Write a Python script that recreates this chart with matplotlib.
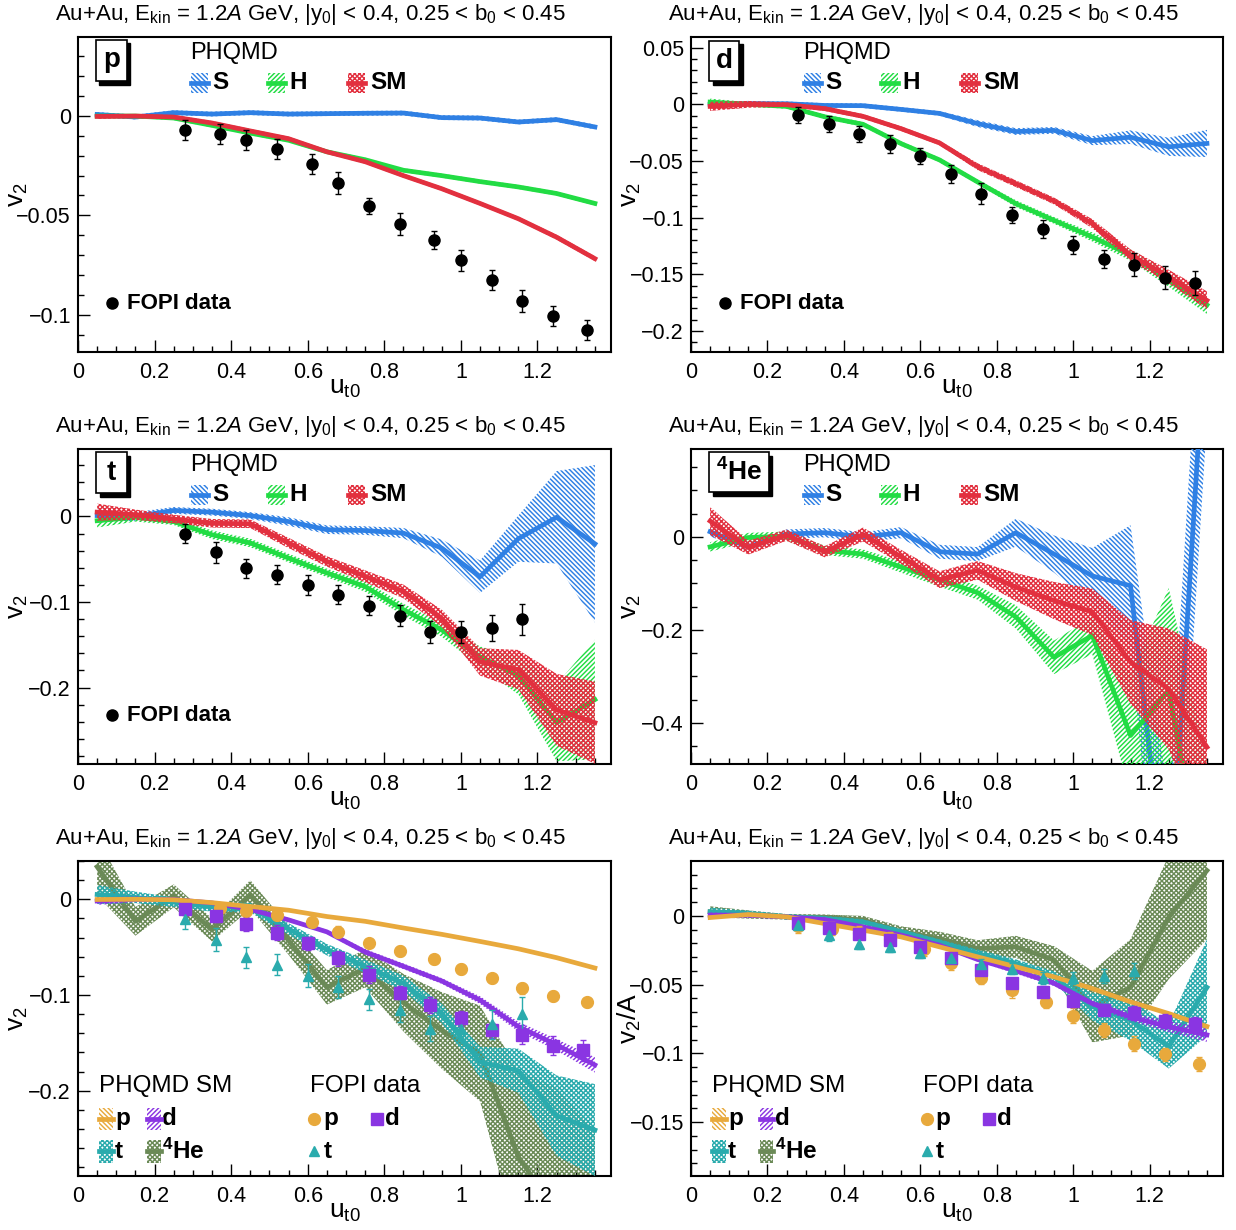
import matplotlib
matplotlib.use("Agg")
import matplotlib.pyplot as plt
import numpy as np
from matplotlib.patches import Rectangle
from matplotlib.lines import Line2D
from matplotlib.ticker import MultipleLocator, FuncFormatter

plt.rcParams.update({
    "font.family": ["Liberation Sans", "DejaVu Sans"],
    "mathtext.fontset": "custom",
    "mathtext.rm": "Liberation Sans",
    "mathtext.it": "Liberation Sans:italic",
    "mathtext.bf": "Liberation Sans:bold",
    "hatch.linewidth": 1.05,
    "axes.linewidth": 1.5,
})

# ---------------- data ----------------
u_model = [0.05, 0.15, 0.25, 0.35, 0.45, 0.55, 0.65, 0.75, 0.85, 0.95, 1.05, 1.15, 1.25, 1.35]

# protons
p_S = [0.0008, -0.0005, 0.0017, 0.0010, 0.0017, 0.0010, 0.0012, 0.0014, 0.0015, -0.0008, -0.0010, -0.0030, -0.0018, -0.0055]
p_S_err = [0.0012, 0.0012, 0.0012, 0.0012, 0.0012, 0.0012, 0.0012, 0.0012, 0.0012, 0.0012, 0.0012, 0.0012, 0.0012, 0.0012]
p_H = [0.0, 0.0, -0.0010, -0.0047, -0.0086, -0.0122, -0.0180, -0.0220, -0.0273, -0.0300, -0.0330, -0.0357, -0.0390, -0.0440]
p_H_err = [0.0010, 0.0010, 0.0010, 0.0010, 0.0010, 0.0010, 0.0010, 0.0010, 0.0010, 0.0010, 0.0010, 0.0010, 0.0010, 0.0010]
p_SM = [-0.0002, 0.0, -0.0005, -0.0035, -0.0075, -0.0114, -0.0180, -0.0230, -0.0300, -0.0366, -0.0440, -0.0517, -0.0610, -0.0718]
p_SM_err = [0.0012, 0.0010, 0.0010, 0.0010, 0.0010, 0.0010, 0.0010, 0.0010, 0.0010, 0.0010, 0.0010, 0.0010, 0.0012, 0.0012]

# deuterons
d_S = [0.0, 0.0006, 0.0005, -0.0010, -0.0012, -0.0045, -0.0080, -0.0170, -0.0240, -0.0230, -0.0320, -0.0290, -0.0375, -0.0345]
d_S_err = [0.003, 0.002, 0.002, 0.002, 0.002, 0.002, 0.002, 0.003, 0.003, 0.003, 0.004, 0.006, 0.008, 0.012]
d_H = [0.0020, 0.0, -0.0018, -0.0110, -0.0176, -0.0347, -0.0490, -0.0685, -0.0876, -0.1024, -0.1170, -0.1330, -0.1550, -0.1770]
d_H_err = [0.003, 0.002, 0.002, 0.002, 0.002, 0.002, 0.002, 0.002, 0.003, 0.003, 0.004, 0.005, 0.006, 0.008]
d_SM = [-0.0018, 0.0, -0.0003, -0.0038, -0.0106, -0.0215, -0.0340, -0.0550, -0.0700, -0.0853, -0.1053, -0.1330, -0.1520, -0.1730]
d_SM_err = [0.004, 0.003, 0.002, 0.002, 0.002, 0.002, 0.002, 0.003, 0.003, 0.003, 0.004, 0.005, 0.006, 0.008]

# tritons
t_S = [0.001, 0.0, 0.007, 0.005, 0.001, -0.006, -0.0155, -0.0165, -0.0195, -0.037, -0.0705, -0.026, -0.001, -0.032]
t_S_err = [0.008, 0.005, 0.004, 0.004, 0.004, 0.005, 0.005, 0.005, 0.006, 0.010, 0.019, 0.027, 0.054, 0.092]
t_H = [-0.005, -0.001, -0.006, -0.0214, -0.031, -0.0487, -0.066, -0.082, -0.109, -0.1326, -0.164, -0.186, -0.241, -0.214]
t_H_err = [0.008, 0.005, 0.004, 0.005, 0.005, 0.005, 0.005, 0.006, 0.007, 0.008, 0.012, 0.022, 0.045, 0.07]
t_SM = [0.005, 0.002, -0.003, -0.008, -0.0086, -0.031, -0.0526, -0.070, -0.0877, -0.119, -0.170, -0.179, -0.226, -0.241]
t_SM_err = [0.010, 0.006, 0.005, 0.005, 0.005, 0.006, 0.006, 0.007, 0.008, 0.010, 0.016, 0.023, 0.042, 0.048]

# 4He
he_S = [0.011, -0.0215, 0.006, 0.009, 0.0, 0.009, -0.032, -0.037, 0.009, -0.037, -0.084, -0.105, -0.82, 0.50]
he_S_err = [0.010, 0.010, 0.010, 0.010, 0.010, 0.012, 0.015, 0.015, 0.030, 0.040, 0.060, 0.130, 0.250, 0.250]
he_H = [-0.0215, -0.0014, 0.0014, -0.029, -0.037, -0.065, -0.092, -0.120, -0.172, -0.259, -0.212, -0.427, -0.330, -0.780]
he_H_err = [0.010, 0.010, 0.010, 0.010, 0.010, 0.012, 0.015, 0.015, 0.025, 0.036, 0.040, 0.130, 0.220, 0.300]
he_SM = [0.034, -0.023, 0.0036, -0.032, 0.005, -0.043, -0.092, -0.072, -0.108, -0.137, -0.161, -0.269, -0.327, -0.452]
he_SM_err = [0.030, 0.015, 0.012, 0.012, 0.015, 0.015, 0.018, 0.020, 0.030, 0.040, 0.050, 0.090, 0.130, 0.210]

# per-nucleon SM curves (last panel)
pA_SM = [-0.0012, 0.0010, -0.0007, -0.0056, -0.0104, -0.0153, -0.0225, -0.0298, -0.0370, -0.0443, -0.0528, -0.0625, -0.0710, -0.0804]
pA_SM_err = [0.0012, 0.0010, 0.0010, 0.0010, 0.0010, 0.0010, 0.0010, 0.0010, 0.0010, 0.0010, 0.0010, 0.0010, 0.0012, 0.0012]
dA_SM = [0.0005, 0.0005, -0.0007, -0.0027, -0.0080, -0.0140, -0.0213, -0.0317, -0.0400, -0.0490, -0.0637, -0.0734, -0.0806, -0.0865]
dA_SM_err = [0.002, 0.0015, 0.0015, 0.0015, 0.0015, 0.0015, 0.0015, 0.0015, 0.002, 0.002, 0.002, 0.003, 0.004, 0.005]
tA_SM = [0.003, 0.0017, -0.0007, -0.002, -0.0044, -0.0116, -0.019, -0.0274, -0.0346, -0.0443, -0.066, -0.0757, -0.095, -0.052]
tA_SM_err = [0.003, 0.002, 0.002, 0.002, 0.002, 0.002, 0.002, 0.003, 0.003, 0.004, 0.010, 0.015, 0.016, 0.035]
heA_SM = [0.003, 0.001, -0.0007, -0.001, -0.003, -0.0116, -0.0165, -0.0237, -0.0225, -0.032, -0.066, -0.052, -0.001, 0.033]
heA_SM_err = [0.004, 0.003, 0.002, 0.002, 0.003, 0.004, 0.005, 0.006, 0.008, 0.010, 0.026, 0.035, 0.045, 0.050]

# FOPI data
fopi_p_u = [0.28, 0.37, 0.44, 0.52, 0.61, 0.68, 0.76, 0.84, 0.93, 1.00, 1.08, 1.16, 1.24, 1.33]
fopi_p_v2 = [-0.0072, -0.0092, -0.0121, -0.0166, -0.0240, -0.0339, -0.0453, -0.0542, -0.0626, -0.0727, -0.0827, -0.0930, -0.1007, -0.1077]
fopi_p_err = [0.005, 0.005, 0.005, 0.005, 0.005, 0.0055, 0.004, 0.0055, 0.0045, 0.0055, 0.005, 0.0055, 0.005, 0.005]
fopi_d_u = [0.28, 0.36, 0.44, 0.52, 0.60, 0.68, 0.76, 0.84, 0.92, 1.00, 1.08, 1.16, 1.24, 1.32]
fopi_d_v2 = [-0.0097, -0.0170, -0.0259, -0.0347, -0.0459, -0.0618, -0.0788, -0.0974, -0.1103, -0.1244, -0.1368, -0.1415, -0.1530, -0.1576]
fopi_d_err = [0.007, 0.007, 0.007, 0.008, 0.007, 0.008, 0.009, 0.007, 0.008, 0.008, 0.008, 0.010, 0.010, 0.011]
fopi_t_u = [0.28, 0.36, 0.44, 0.52, 0.60, 0.68, 0.76, 0.84, 0.92, 1.00, 1.08, 1.16]
fopi_t_v2 = [-0.0203, -0.0420, -0.0604, -0.0682, -0.0800, -0.0916, -0.1045, -0.1158, -0.1353, -0.1353, -0.1306, -0.1200]
fopi_t_err = [0.011, 0.012, 0.011, 0.011, 0.012, 0.011, 0.011, 0.012, 0.013, 0.013, 0.015, 0.018]

mass_p, mass_d, mass_t = 1, 2, 3

# ---------------- style ----------------
C_S, C_H, C_SM = "#2f80e4", "#22dc44", "#e2303f"
C_P, C_D, C_T, C_HE = "#e8a93c", "#8a35e2", "#2aabad", "#6b8a57"
HT_S, HT_H, HT_SM = "\\\\\\\\\\\\\\", "///////", "xxxxxxx"
HT_P, HT_D, HT_T, HT_HE = "\\\\\\\\\\\\\\", "///////", "xxxxxxx", "xxxxxxx"

TITLE = r"Au+Au, E$_{\rm kin}$ = 1.2$\it{A}$ GeV, |y$_0$| < 0.4, 0.25 < b$_0$ < 0.45"

W, H = 1236, 1230
fig = plt.figure(figsize=(W / 100, H / 100), dpi=100)

def axes_px(x0, x1, y0, y1):
    return fig.add_axes([x0 / W, 1 - y1 / H, (x1 - x0) / W, (y1 - y0) / H])

axs = [
    axes_px(78, 611, 37, 352), axes_px(691, 1223, 37, 352),
    axes_px(78, 611, 449, 764), axes_px(691, 1223, 449, 764),
    axes_px(78, 611, 861, 1176), axes_px(691, 1223, 861, 1176),
]
ylims = [(-0.1188, 0.0398), (-0.2185, 0.0594), (-0.2893, 0.0788),
         (-0.4883, 0.1889), (-0.2890, 0.0400), (-0.1891, 0.0399)]
ymaj = [0.05, 0.05, 0.1, 0.2, 0.1, 0.05]
ymin = [0.01, 0.01, 0.02, 0.05, 0.02, 0.01]

def fmt(v, pos):
    s = "%g" % round(v, 6)
    return s.replace("-", "\u2212")

for ax, yl, mj, mn in zip(axs, ylims, ymaj, ymin):
    ax.set_xlim(0, 1.392)
    ax.set_ylim(*yl)
    ax.xaxis.set_major_locator(MultipleLocator(0.2))
    ax.xaxis.set_minor_locator(MultipleLocator(0.05))
    ax.yaxis.set_major_locator(MultipleLocator(mj))
    ax.yaxis.set_minor_locator(MultipleLocator(mn))
    ax.xaxis.set_major_formatter(FuncFormatter(fmt))
    ax.yaxis.set_major_formatter(FuncFormatter(fmt))
    ax.tick_params(which="both", direction="in", top=False, right=False, labelsize=15.5, width=1.0)
    ax.tick_params(which="major", length=8.5)
    ax.tick_params(axis="y", which="major", pad=5)
    ax.tick_params(axis="x", which="major", pad=7)
    ax.tick_params(which="minor", length=4.3)
    ax.set_xlabel(r"u$_{\rm t0}$", fontsize=19)
    ax.xaxis.set_label_coords(0.5, -0.075)
    ax.text(-0.043, 1.054, TITLE, transform=ax.transAxes, fontsize=16, ha="left", va="baseline")

for i, ax in enumerate(axs):
    lab = r"v$_2$/A" if i == 5 else r"v$_2$"
    ax.set_ylabel(lab, fontsize=19)
    ax.yaxis.set_label_coords(-0.09, 0.5)


def band(ax, y, e, color, hatch, z, lw=3.4):
    y = np.asarray(y); e = np.asarray(e)
    ax.fill_between(u_model, y - e, y + e, facecolor="none", edgecolor=color,
                    hatch=hatch, linewidth=0, zorder=z)
    ax.plot(u_model, y, color=color, lw=lw, zorder=z + 0.1, solid_joinstyle="round")


def label_box(ax, x0, x1, y0, y1, txt, fs):
    dx, dy = 0.0065, 0.011
    ax.add_patch(Rectangle((x0 + dx, y0 - dy), x1 - x0, y1 - y0, transform=ax.transAxes,
                           facecolor="black", edgecolor="black", lw=1, zorder=10, clip_on=False))
    ax.add_patch(Rectangle((x0, y0), x1 - x0, y1 - y0, transform=ax.transAxes,
                           facecolor="white", edgecolor="black", lw=1.2, zorder=11, clip_on=False))
    ax.text((x0 + x1) / 2, (y0 + y1) / 2, txt, transform=ax.transAxes, fontsize=fs,
            fontweight="bold", ha="center", va="center", zorder=12)


def leg_band(ax, x, y, w, h, color, hatch, lw=3.4):
    ax.add_patch(Rectangle((x, y - h / 2), w, h, transform=ax.transAxes, facecolor="none",
                           edgecolor=color, hatch=hatch, lw=0, zorder=12, clip_on=False))
    ax.add_line(Line2D([x, x + w], [y, y], transform=ax.transAxes, color=color, lw=lw, zorder=13))


def model_legend(ax):
    ax.text(0.2105, 0.948, "PHQMD", transform=ax.transAxes, fontsize=17, ha="left", va="center", zorder=12)
    y = 0.854
    for x, tx, c, ht, lab in [(0.212, 0.2515, C_S, HT_S, "S"), (0.3565, 0.3975, C_H, HT_H, "H"),
                              (0.5066, 0.549, C_SM, HT_SM, "SM")]:
        leg_band(ax, x, y, 0.032, 0.064, c, ht)
        ax.text(tx, y, lab, transform=ax.transAxes, fontsize=17.5, fontweight="bold",
                ha="left", va="center", zorder=12)


def fopi_legend(ax):
    ax.plot([0.0636], [0.1546], "o", color="black", ms=8, transform=ax.transAxes, clip_on=False, zorder=12)
    ax.text(0.0925, 0.1546, "FOPI data", transform=ax.transAxes, fontsize=16, fontweight="bold",
            ha="left", va="center", zorder=12)


def data_black(ax, u, v, e):
    ax.errorbar(u, v, yerr=e, fmt="o", color="black", ms=8, elinewidth=1.0, capsize=2.0,
                capthick=1.0, zorder=20)

# --- panel p ---
ax = axs[0]
band(ax, p_S, p_S_err, C_S, HT_S, 3)
band(ax, p_H, p_H_err, C_H, HT_H, 4)
band(ax, p_SM, p_SM_err, C_SM, HT_SM, 5)
data_black(ax, fopi_p_u, fopi_p_v2, fopi_p_err)
label_box(ax, 0.0332, 0.0914, 0.8594, 0.9914, "p", 20)
model_legend(ax); fopi_legend(ax)

# --- panel d ---
ax = axs[1]
band(ax, d_S, d_S_err, C_S, HT_S, 3)
band(ax, d_H, d_H_err, C_H, HT_H, 4)
band(ax, d_SM, d_SM_err, C_SM, HT_SM, 5)
data_black(ax, fopi_d_u, fopi_d_v2, fopi_d_err)
label_box(ax, 0.0346, 0.091, 0.860, 0.988, "d", 20)
model_legend(ax); fopi_legend(ax)

# --- panel t ---
ax = axs[2]
band(ax, t_S, t_S_err, C_S, HT_S, 3)
band(ax, t_H, t_H_err, C_H, HT_H, 4)
band(ax, t_SM, t_SM_err, C_SM, HT_SM, 5)
data_black(ax, fopi_t_u, fopi_t_v2, fopi_t_err)
label_box(ax, 0.034, 0.091, 0.860, 0.989, "t", 20)
model_legend(ax); fopi_legend(ax)

# --- panel 4He ---
ax = axs[3]
band(ax, he_S, he_S_err, C_S, HT_S, 3)
band(ax, he_H, he_H_err, C_H, HT_H, 4)
band(ax, he_SM, he_SM_err, C_SM, HT_SM, 5)
label_box(ax, 0.0346, 0.1464, 0.862, 0.989, r"$^{\bf 4}$He", 19)
model_legend(ax)


def species_panel(ax, curves, scale):
    for y, e, c, ht, z in curves:
        band(ax, y, e, c, ht, z)
    for u, v, e, A, mk, c, ms in [(fopi_p_u, fopi_p_v2, fopi_p_err, mass_p, "o", C_P, 8.5),
                                  (fopi_d_u, fopi_d_v2, fopi_d_err, mass_d, "s", C_D, 8.5),
                                  (fopi_t_u, fopi_t_v2, fopi_t_err, mass_t, "^", C_T, 7.5)]:
        a = A if scale else 1
        ax.errorbar(u, np.asarray(v) / a, yerr=np.asarray(e) / a, fmt=mk, color=c, ms=ms,
                    elinewidth=1.0, capsize=2.0, capthick=1.0, zorder=20)
    # legends
    ax.text(0.0394, 0.287, "PHQMD SM", transform=ax.transAxes, fontsize=17.5, ha="left", va="center", zorder=12)
    ax.text(0.4353, 0.287, "FOPI data", transform=ax.transAxes, fontsize=17.5, ha="left", va="center", zorder=12)
    r1, r2 = 0.181, 0.0784
    for x, tx, y, c, ht, lab in [(0.0394, 0.0694, r1, C_P, HT_P, "p"), (0.129, 0.1576, r1, C_D, HT_D, "d"),
                                 (0.0394, 0.0694, r2, C_T, HT_T, "t"), (0.129, 0.1576, r2, C_HE, HT_HE, r"$^{\bf 4}$He")]:
        leg_band(ax, x, y, 0.026, 0.072, c, ht)
        ax.text(tx, y, lab, transform=ax.transAxes, fontsize=17.5, fontweight="bold",
                ha="left", va="center", zorder=12)
    for x, tx, y, mk, c, ms, lab in [(0.4433, 0.4602, r1, "o", C_P, 8.5, "p"),
                                     (0.5604, 0.576, r1, "s", C_D, 8.5, "d"),
                                     (0.4433, 0.4602, r2, "^", C_T, 7.5, "t")]:
        ax.plot([x], [y], mk, color=c, ms=ms, transform=ax.transAxes, clip_on=False, zorder=12)
        ax.text(tx, y, lab, transform=ax.transAxes, fontsize=17.5, fontweight="bold",
                ha="left", va="center", zorder=12)

species_panel(axs[4], [(he_SM, he_SM_err, C_HE, HT_HE, 2), (t_SM, t_SM_err, C_T, HT_T, 3),
                       (d_SM, d_SM_err, C_D, HT_D, 4), (p_SM, p_SM_err, C_P, HT_P, 5)], False)
species_panel(axs[5], [(heA_SM, heA_SM_err, C_HE, HT_HE, 2), (tA_SM, tA_SM_err, C_T, HT_T, 3),
                       (dA_SM, dA_SM_err, C_D, HT_D, 4), (pA_SM, pA_SM_err, C_P, HT_P, 5)], True)

fig.savefig("out.png", dpi=100)
